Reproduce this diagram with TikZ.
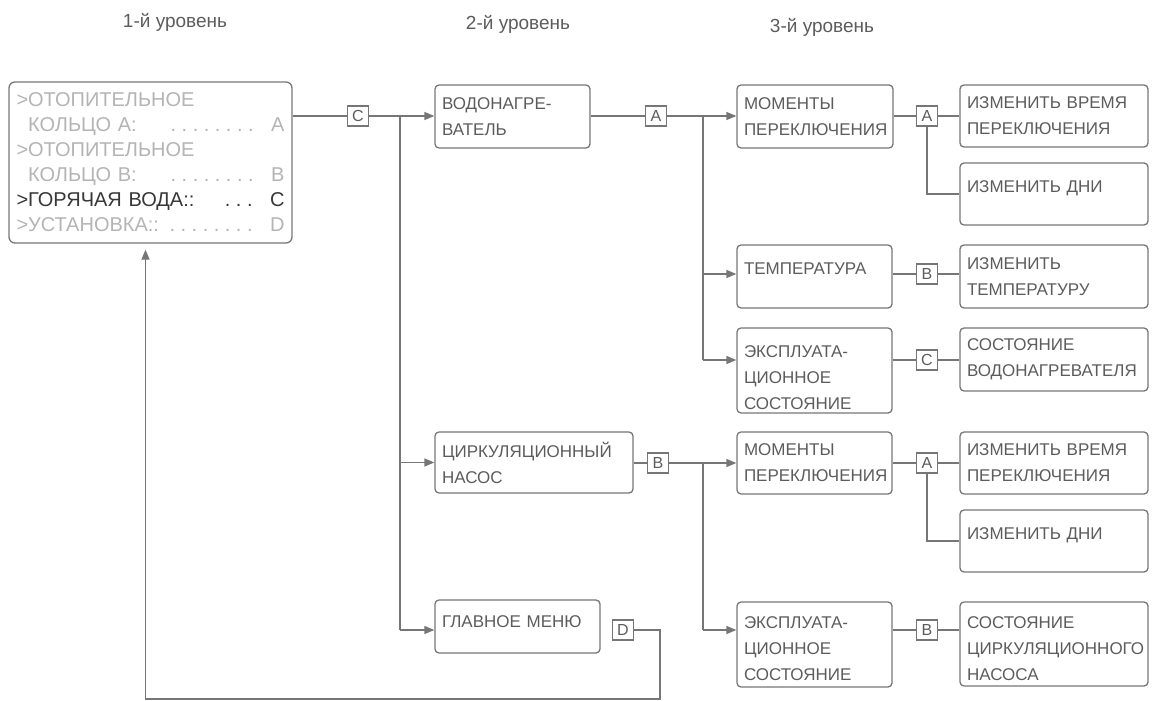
\documentclass[tikz,border=0pt]{standalone}
\usepackage{fontspec}
\setmainfont{Liberation Sans}
\usetikzlibrary{arrows.meta}
\definecolor{cline}{RGB}{118,118,118}
\definecolor{ctext}{RGB}{92,92,92}
\definecolor{cpale}{RGB}{180,180,180}
\definecolor{cdark}{RGB}{55,55,55}
\newcommand\mrow[3]{\makebox[268pt][l]{#1\hfill#2\hspace{12pt}#3}}
\newcommand\mdots[1]{\foreach \k in {1,...,#1}{.\kern5.5pt}}
\tikzset{menusec/.style={x=1pt,y=-1pt,line width=1.3pt},
  lvl/.style={text=ctext,font=\fontsize{19}{22}\selectfont},
  item/.style={draw=cline,rounded corners=4pt,text=ctext,align=left,inner xsep=7pt,inner ysep=0pt,font=\fontsize{17}{26}\selectfont},
  keybox/.style={draw=cline,minimum width=21pt,minimum height=20pt,inner sep=0pt,text=ctext,font=\fontsize{16}{16}\selectfont},
  conn/.style={draw=cline},
  arr/.style={conn,-{Triangle[length=10pt,width=8pt]}}}

\begin{document}
\begin{tikzpicture}[menusec]
    \useasboundingbox (0,0) rectangle (1154,701);
    \foreach \i/\x/\y in {1/175/22,2/518/24,3/822/27}
      \node[lvl] (lvl\i) at (\x,\y) {\i-й уровень};
    % level 1
    \node[item,rounded corners=6pt,text width=268pt,minimum height=161pt,inner xsep=7.5pt,font=\fontsize{20}{25}\selectfont] (menu) at (150.5,162.5)
      {\mrow{\color{cpale}>ОТОПИТЕЛЬНОЕ}{}{}\\
       \mrow{\color{cpale}\phantom{>}КОЛЬЦО A:}{\color{cpale}\mdots{8}}{\color{cpale}A}\\
       \mrow{\color{cpale}>ОТОПИТЕЛЬНОЕ}{}{}\\
       \mrow{\color{cpale}\phantom{>}КОЛЬЦО B:}{\color{cpale}\mdots{8}}{\color{cpale}B}\\
       \mrow{\color{cdark}>ГОРЯЧАЯ ВОДА::}{\color{cdark}\mdots{3}}{\color{cdark}C}\\
       \mrow{\color{cpale}>УСТАНОВКА::}{\color{cpale}\mdots{8}}{\color{cpale}D}};
    % level 2
    \node[keybox] (kC) at (358,116) {C};
    \coordinate (jC) at (400,116);
    \node[item,text width=141pt,minimum height=63pt] (vod) at (512.5,116.5) {ВОДОНАГРЕ-\\ВАТЕЛЬ};
    \node[item,text width=184pt,minimum height=61pt] (cir) at (534,462.5) {ЦИРКУЛЯЦИОННЫЙ\\НАСОС};
    \node[item,text width=151pt,minimum height=53pt,text depth=9pt] (glav) at (517.5,626.5) {ГЛАВНОЕ МЕНЮ};
    \node[keybox] (kVA) at (656,116) {A};
    \node[keybox] (kCB) at (658,463) {B};
    \node[keybox] (kGD) at (623,630) {D};
    \coordinate (jV1) at (703,116);
    \coordinate (jV2) at (703,463);
    \coordinate (ret) at (660,699);
    % level 3
    \node[item,text width=142pt,minimum height=63pt] (mom1) at (815,116.5) {МОМЕНТЫ\\ПЕРЕКЛЮЧЕНИЯ};
    \node[item,text width=141pt,minimum height=63pt,text depth=16pt] (temp) at (814.5,276.5) {ТЕМПЕРАТУРА};
    \node[item,text width=141pt,minimum height=85pt,text height=27pt] (exp1) at (814.5,370.5) {ЭКСПЛУАТА-\\ЦИОННОЕ\\СОСТОЯНИЕ};
    \node[item,text width=141pt,minimum height=62pt] (mom2) at (814.5,463) {МОМЕНТЫ\\ПЕРЕКЛЮЧЕНИЯ};
    \node[item,text width=141pt,minimum height=85pt,text height=21pt] (exp2) at (814.5,644.5) {ЭКСПЛУАТА-\\ЦИОННОЕ\\СОСТОЯНИЕ};
    \node[keybox] (kMA1) at (927,116) {A};
    \node[keybox] (kTB) at (927,274) {B};
    \node[keybox] (kEC) at (927,360) {C};
    \node[keybox] (kMA2) at (927,463) {A};
    \node[keybox] (kEB) at (927,630) {B};
    \node[item,text width=174pt,minimum height=62pt] (izv1) at (1054,116) {ИЗМЕНИТЬ ВРЕМЯ\\ПЕРЕКЛЮЧЕНИЯ};
    \node[item,text width=174pt,minimum height=62pt,text depth=14pt] (izd1) at (1054,194) {ИЗМЕНИТЬ ДНИ};
    \node[item,text width=174pt,minimum height=63pt] (izt) at (1054,276.5) {ИЗМЕНИТЬ\\ТЕМПЕРАТУРУ};
    \node[item,text width=174pt,minimum height=63pt] (sost1) at (1054,359.5) {СОСТОЯНИЕ\\ВОДОНАГРЕВАТЕЛЯ};
    \node[item,text width=174pt,minimum height=62pt] (izv2) at (1054,463) {ИЗМЕНИТЬ ВРЕМЯ\\ПЕРЕКЛЮЧЕНИЯ};
    \node[item,text width=174pt,minimum height=62pt,text depth=14pt] (izd2) at (1054,541) {ИЗМЕНИТЬ ДНИ};
    \node[item,text width=174pt,minimum height=84pt,text height=22pt] (sost2) at (1054,644) {СОСТОЯНИЕ\\ЦИРКУЛЯЦИОННОГО\\НАСОСА};
    % connectors
    \draw[conn] (menu.east |- kC) -- (kC);
    \draw[arr] (kC) -- (vod.west |- kC);
    \draw[conn] (jC) -- (jC |- kGD);
    \draw[arr] (jC |- cir) -- (cir);
    \draw[arr] (jC |- kGD) -- (glav.west |- kGD);
    \draw[conn] (vod.east |- kVA) -- (kVA);
    \draw[arr] (kVA) -- (mom1.west |- kVA);
    \draw[conn] (jV1) -- (jV1 |- kEC);
    \draw[arr] (jV1 |- kTB) -- (temp.west |- kTB);
    \draw[arr] (jV1 |- kEC) -- (exp1.west |- kEC);
    \draw[conn] (mom1.east |- kMA1) -- (kMA1) -- (izv1.west |- kMA1);
    \draw[conn] (kMA1.south) |- (izd1.west);
    \draw[conn] (temp.east |- kTB) -- (kTB) -- (izt.west |- kTB);
    \draw[conn] (exp1.east |- kEC) -- (kEC) -- (sost1.west |- kEC);
    \draw[conn] (cir.east |- kCB) -- (kCB);
    \draw[arr] (kCB) -- (mom2.west |- kCB);
    \draw[conn] (jV2) -- (jV2 |- kEB);
    \draw[arr] (jV2 |- kEB) -- (exp2.west |- kEB);
    \draw[conn] (mom2.east |- kMA2) -- (kMA2) -- (izv2.west |- kMA2);
    \draw[conn] (kMA2.south) |- (izd2.west);
    \draw[conn] (exp2.east |- kEB) -- (kEB) -- (sost2.west |- kEB);
    \draw[arr,shorten >=6pt] (kGD) -| (ret) -| ([xshift=-5pt]menu.south);
\end{tikzpicture}
\end{document}
